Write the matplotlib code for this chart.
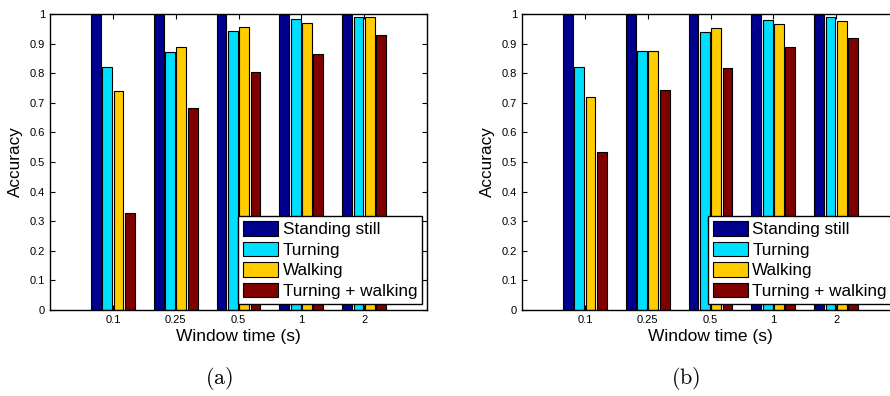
import numpy as np
import matplotlib
matplotlib.use("Agg")
import matplotlib.pyplot as plt

plt.rcParams["font.family"] = ["Liberation Sans", "DejaVu Sans"]
plt.rcParams["mathtext.fontset"] = "cm"

# window lengths and activity classes
windows = ["0.1", "0.25", "0.5", "1", "2"]
activities = ["Standing still", "Turning", "Walking", "Turning + walking"]
colors = ["#00008F", "#00DFFF", "#FFCC00", "#800000"]

# panel (a)
standing_a = [1.0, 1.0, 1.0, 1.0, 1.0]
turning_a = [0.820, 0.872, 0.941, 0.984, 0.990]
walking_a = [0.739, 0.890, 0.956, 0.971, 0.991]
turnwalk_a = [0.329, 0.682, 0.803, 0.866, 0.930]

# panel (b)
standing_b = [1.0, 1.0, 1.0, 1.0, 1.0]
turning_b = [0.821, 0.875, 0.939, 0.981, 0.990]
walking_b = [0.720, 0.875, 0.953, 0.965, 0.976]
turnwalk_b = [0.533, 0.743, 0.816, 0.889, 0.920]


def draw_panel(ax, series, leg_x):
    x = np.arange(1, len(windows) + 1)
    step = 0.18
    width = 0.155
    for i, (vals, col, lab) in enumerate(zip(series, colors, activities)):
        ax.bar(x + (i - 1.5) * step, vals, width, color=col, edgecolor="black",
               linewidth=0.8, label=lab)
    ax.set_xlim(0, 6)
    ax.set_ylim(0, 1)
    ax.set_xticks(x)
    ax.set_xticklabels(windows)
    ax.set_yticks(np.arange(0, 1.01, 0.1))
    ax.set_yticklabels(["0"] + [f"{v:.1f}" for v in np.arange(0.1, 0.95, 0.1)] + ["1"])
    ax.tick_params(direction="in", length=3.5, width=0.8, labelsize=8,
                   top=True, right=True, pad=3.5)
    for s in ax.spines.values():
        s.set_linewidth(1.0)
    ax.set_xlabel("Window time (s)", fontsize=12.5, labelpad=3)
    ax.set_ylabel("Accuracy", fontsize=12.3, labelpad=5)
    leg = ax.legend(loc="lower left", bbox_to_anchor=(leg_x, 0.02), borderaxespad=0,
                    fontsize=12.3, handlelength=2.05, handleheight=0.95,
                    handletextpad=0.25, labelspacing=0.25, borderpad=0.3,
                    fancybox=False, framealpha=1, edgecolor="black")
    leg.get_frame().set_linewidth(1.0)


fig = plt.figure(figsize=(8.9, 3.96), dpi=100)
ax_a = fig.add_axes([50 / 890, 86 / 396, 377 / 890, 296 / 396])
ax_b = fig.add_axes([522 / 890, 86 / 396, 377 / 890, 296 / 396])

draw_panel(ax_a, [standing_a, turning_a, walking_a, turnwalk_a], 0.499)
draw_panel(ax_b, [standing_b, turning_b, walking_b, turnwalk_b], 0.493)

fig.text(219 / 890, 1 - 378 / 396, r"$\mathrm{(a)}$", fontsize=16, ha="center", va="center")
fig.text(686 / 890, 1 - 378 / 396, r"$\mathrm{(b)}$", fontsize=16, ha="center", va="center")

fig.savefig("out.png", dpi=100)
